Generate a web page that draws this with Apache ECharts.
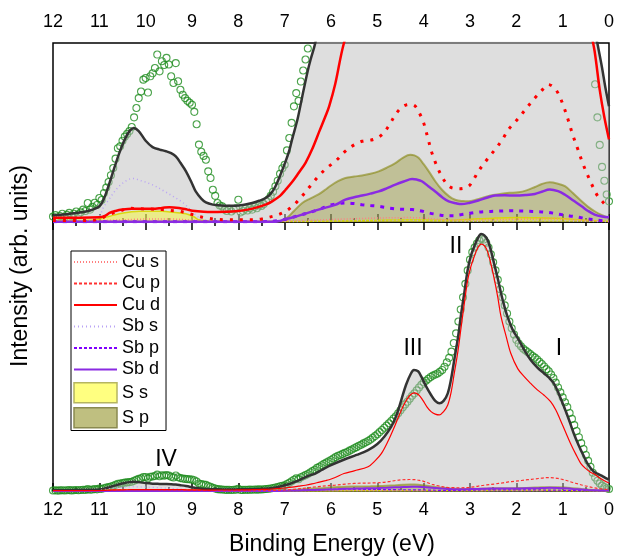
<!DOCTYPE html>
<html><head><meta charset="utf-8">
<script src="https://cdn.jsdelivr.net/npm/echarts@6/dist/echarts.min.js"></script>
<style>html,body{margin:0;padding:0;background:#fff}#c{width:617px;height:556px}</style>
</head><body><div id="c"></div>
<script>
// ---------------- DATA (arbitrary units: bottom panel full scale = 100) ----------------
const xTickLabels = [12,11,10,9,8,7,6,5,4,3,2,1,0];
const peakLabels = ['I','II','III','IV'];
const legendNames = ['Cu s','Cu p','Cu d','Sb s','Sb p','Sb d','S s','S p'];

// experimental points, binding energy from 12.00 down to 0.00 every 0.05 eV
const expStart = 12.0, expStep = 0.05;
const expVals = [
 0.20,0.25,0.15,0.22,0.30,0.18,0.26,0.33,0.22,0.30,
 0.38,0.28,0.35,0.45,0.40,0.69,0.45,0.55,0.70,0.62,
 0.87,0.80,1.05,1.25,1.45,1.70,1.96,2.30,2.68,2.75,
 2.95,3.10,3.20,3.30,3.45,3.80,4.14,4.50,4.74,5.17,
 5.23,4.70,5.29,5.40,5.59,6.08,5.47,5.84,5.70,5.96,
 5.72,5.29,5.05,5.77,5.11,4.80,4.62,4.50,4.40,4.33,
 4.26,4.00,3.55,2.81,2.55,2.40,2.26,1.84,1.60,1.17,
 0.95,0.69,0.60,0.57,0.45,0.40,0.48,0.38,0.45,0.50,
 0.81,0.35,0.40,0.48,0.42,0.50,0.45,0.55,0.50,0.60,
 0.58,0.65,0.75,0.82,0.95,1.10,1.30,1.50,1.75,1.95,
 2.08,2.60,3.05,3.60,4.20,4.68,4.40,5.10,5.50,5.90,
 6.30,6.90,7.40,7.90,8.60,9.00,9.60,10.1,10.6,11.0,
 11.5,12.1,12.6,13.1,13.4,13.8,14.2,14.5,15.0,15.4,
 15.9,16.3,16.8,17.2,17.7,18.1,18.6,19.1,19.8,20.4,
 21.1,21.9,22.7,23.5,24.3,25.2,26.0,26.9,27.8,28.9,
 30.0,31.1,32.2,33.2,34.3,35.4,36.3,37.4,38.5,39.5,
 40.4,41.0,41.7,42.4,42.9,43.3,43.7,44.3,45.0,46.2,
 47.8,49.5,51.8,55.0,58.6,63.0,67.5,72.0,77.0,82.0,
 86.0,88.8,90.5,92.0,93.2,93.8,93.5,92.3,90.5,88.0,
 85.0,82.0,78.5,75.0,72.0,69.0,66.0,63.0,60.5,58.2,
 56.2,54.8,53.8,52.9,52.2,51.6,50.9,50.2,49.6,48.9,
 48.0,47.2,46.3,45.3,44.5,43.3,42.0,40.3,38.5,36.7,
 34.8,33.0,31.2,29.0,26.8,24.5,22.3,20.0,17.8,15.6,
 13.4,11.2,9.0,6.8,5.0,3.8,2.8,2.0,1.5,1.0,
 0.75
];

const total = [[12,0.24],[11.5,0.33],[11.2,0.42],[11.0,0.57],[10.9,0.85],[10.78,1.42],[10.67,2.0],[10.57,2.5],[10.45,3.0],[10.35,3.3],[10.26,3.41],[10.15,3.3],[10.0,2.95],[9.85,2.72],[9.7,2.63],[9.56,2.57],[9.45,2.5],[9.35,2.38],[9.25,2.15],[9.13,1.84],[9.0,1.4],[8.92,1.11],[8.8,0.85],[8.7,0.71],[8.55,0.63],[8.42,0.61],[8.25,0.59],[8.06,0.59],[7.9,0.62],[7.7,0.69],[7.55,0.77],[7.41,0.87],[7.3,1.03],[7.2,1.29],[7.1,1.68],[6.98,2.2],[6.9,2.6],[6.84,3.0],[6.72,3.75],[6.62,4.56],[6.5,5.5],[6.44,5.9],[6.34,6.5],[6.2,7.8],[6.0,9.6],[5.7,11.8],[5.45,13.4],[5.2,15.2],[5.0,17.5],[4.85,20.2],[4.7,23.9],[4.58,28.5],[4.48,34.0],[4.38,39.5],[4.28,43.5],[4.21,45.0],[4.12,44.5],[4.05,42.5],[3.95,39.0],[3.84,35.7],[3.75,33.5],[3.66,32.6],[3.57,33.5],[3.48,36.3],[3.41,41.5],[3.34,48.7],[3.26,57],[3.19,66],[3.12,74],[3.05,82.2],[2.98,87.5],[2.91,90.8],[2.83,94],[2.76,95.5],[2.69,95],[2.62,93.3],[2.55,89.5],[2.48,84.6],[2.40,79],[2.33,73.5],[2.26,68.8],[2.19,64.8],[2.08,60],[1.97,56.8],[1.83,52.5],[1.69,48.7],[1.55,46],[1.40,43.7],[1.30,42.2],[1.19,40.0],[1.08,36.0],[0.97,31.3],[0.86,26.3],[0.76,21.4],[0.65,16.8],[0.54,12.8],[0.45,9.8],[0.33,7.2],[0.24,6.4],[0.15,5.6],[0.08,4.9],[0,4.2]];

const cuD = [[12,0.15],[11.0,0.17],[10.88,0.22],[10.78,0.33],[10.65,0.40],[10.5,0.45],[10.3,0.48],[10.14,0.48],[9.85,0.48],[9.65,0.51],[9.49,0.54],[9.28,0.51],[9.1,0.45],[8.99,0.41],[8.75,0.37],[8.56,0.36],[8.3,0.37],[8.06,0.39],[7.8,0.45],[7.56,0.55],[7.4,0.64],[7.27,0.75],[7.1,0.95],[6.98,1.17],[6.84,1.45],[6.7,1.78],[6.55,2.15],[6.41,2.63],[6.25,3.3],[6.12,3.84],[6.04,4.2],[5.91,5.0],[5.72,6.5],[5.5,7.5],[5.2,9.0],[5.05,11.2],[4.91,14.0],[4.77,18.5],[4.63,23.9],[4.52,28.5],[4.41,32.6],[4.30,35.5],[4.20,36.5],[4.11,35.8],[4.02,33.8],[3.93,31.3],[3.84,29.5],[3.75,28.6],[3.66,28.3],[3.57,29.5],[3.48,32.0],[3.41,36.5],[3.34,43.7],[3.26,52],[3.19,61.1],[3.12,70],[3.05,78.4],[2.98,83.5],[2.91,87.1],[2.83,90.5],[2.76,91.8],[2.69,91.2],[2.62,89],[2.55,84.5],[2.48,79.1],[2.40,72],[2.33,64.8],[2.22,57.5],[2.12,51.2],[1.97,45.5],[1.83,42.5],[1.69,40],[1.54,37.5],[1.40,35.6],[1.26,33.2],[1.15,30.2],[1.05,26.4],[0.94,22],[0.83,17.7],[0.72,13.8],[0.61,10.3],[0.5,8.3],[0.4,7.0],[0.31,6.2],[0.2,4.8],[0.1,3.8],[0,3.0]];

const cuP = [[12,0.05],[11.2,0.06],[11.0,0.1],[10.9,0.18],[10.75,0.3],[10.57,0.39],[10.45,0.46],[10.35,0.5],[10.14,0.48],[9.9,0.47],[9.63,0.45],[9.45,0.42],[9.28,0.39],[9.1,0.32],[8.99,0.27],[8.85,0.2],[8.7,0.15],[8.5,0.1],[8.27,0.08],[7.9,0.08],[7.7,0.08],[7.5,0.11],[7.34,0.17],[7.15,0.26],[6.98,0.39],[6.8,0.62],[6.62,0.95],[6.45,1.3],[6.27,1.66],[6.1,1.95],[5.91,2.2],[5.69,2.57],[5.5,2.8],[5.33,2.93],[5.08,3.0],[4.9,3.17],[4.75,3.5],[4.61,3.9],[4.48,4.15],[4.36,4.26],[4.27,4.27],[4.18,4.2],[4.09,3.95],[4.0,3.6],[3.91,3.05],[3.82,2.5],[3.72,2.05],[3.61,1.66],[3.5,1.38],[3.39,1.24],[3.21,1.21],[3.03,1.3],[2.92,1.55],[2.82,1.84],[2.64,2.25],[2.46,2.63],[2.3,3.0],[2.17,3.36],[2.03,3.62],[1.89,3.9],[1.75,4.2],[1.6,4.5],[1.45,4.78],[1.31,4.99],[1.2,4.9],[1.1,4.68],[0.99,4.25],[0.88,3.7],[0.78,3.15],[0.67,2.63],[0.56,2.1],[0.45,1.66],[0.34,1.25],[0.24,0.93],[0.12,0.7],[0,0.5]];

const cuS = [[12,0.03],[10.8,0.06],[10.2,0.1],[9.5,0.11],[8.8,0.05],[7.5,0.03],[6.5,0.06],[5.5,0.12],[4.3,0.16],[3.3,0.07],[2.0,0.1],[1.2,0.12],[0.5,0.05],[0,0.02]];

const sbS = [[12,0.02],[11.2,0.05],[11.0,0.2],[10.92,0.5],[10.8,0.8],[10.6,1.25],[10.4,1.52],[10.28,1.58],[10.1,1.5],[9.85,1.35],[9.6,1.12],[9.4,0.92],[9.17,0.67],[9.0,0.38],[8.8,0.12],[8.5,0.03],[7.0,0.02],[5.5,0.05],[4.3,0.06],[3.0,0.03],[1.5,0.05],[0,0.01]];

const sbP = [[12,0.01],[7.6,0.01],[7.34,0.02],[7.1,0.06],[6.98,0.1],[6.7,0.23],[6.5,0.33],[6.27,0.45],[6.04,0.6],[5.85,0.67],[5.69,0.69],[5.5,0.67],[5.33,0.63],[5.15,0.6],[4.97,0.57],[4.8,0.52],[4.61,0.48],[4.43,0.46],[4.25,0.45],[4.05,0.4],[3.89,0.33],[3.7,0.27],[3.53,0.23],[3.35,0.23],[3.18,0.27],[3.0,0.32],[2.82,0.36],[2.64,0.38],[2.46,0.39],[2.28,0.4],[2.1,0.41],[1.92,0.4],[1.74,0.39],[1.56,0.38],[1.38,0.36],[1.2,0.32],[1.03,0.27],[0.85,0.22],[0.67,0.18],[0.5,0.12],[0.31,0.08],[0.15,0.05],[0,0.03]];

const sbD = [[12,0.01],[7.3,0.01],[7.1,0.04],[6.98,0.1],[6.8,0.18],[6.62,0.27],[6.45,0.36],[6.27,0.45],[6.1,0.53],[5.91,0.62],[5.69,0.81],[5.5,0.9],[5.33,0.96],[5.15,1.03],[4.97,1.11],[4.8,1.22],[4.61,1.36],[4.43,1.47],[4.25,1.56],[4.15,1.54],[4.04,1.48],[3.9,1.3],[3.75,1.11],[3.6,0.9],[3.46,0.75],[3.3,0.68],[3.18,0.65],[3.0,0.7],[2.82,0.78],[2.64,0.88],[2.46,0.96],[2.25,0.97],[2.03,0.96],[1.8,0.98],[1.6,1.02],[1.45,1.1],[1.28,1.18],[1.1,1.12],[0.95,0.99],[0.77,0.78],[0.59,0.57],[0.45,0.4],[0.31,0.27],[0.15,0.2],[0,0.17]];

const sS = [[12,0.05],[11.2,0.06],[11.0,0.12],[10.8,0.2],[10.57,0.3],[10.3,0.37],[10.14,0.39],[9.85,0.39],[9.63,0.39],[9.4,0.35],[9.13,0.3],[8.95,0.18],[8.85,0.08],[8.6,0.04],[8.3,0.02],[7.0,0.02],[6.0,0.04],[5.0,0.06],[4.3,0.08],[3.5,0.06],[3.0,0.1],[2.5,0.14],[2.0,0.16],[1.5,0.15],[1.0,0.13],[0.5,0.06],[0,0.02]];

const sP = [[12,0.01],[7.3,0.01],[7.2,0.02],[7.05,0.05],[6.95,0.15],[6.8,0.4],[6.62,0.69],[6.45,0.85],[6.27,1.0],[6.1,1.2],[6.04,1.28],[5.85,1.48],[5.69,1.6],[5.5,1.65],[5.33,1.69],[5.15,1.75],[4.97,1.84],[4.8,1.97],[4.61,2.14],[4.45,2.33],[4.29,2.44],[4.2,2.42],[4.11,2.33],[4.0,2.1],[3.89,1.84],[3.75,1.48],[3.61,1.18],[3.45,0.93],[3.32,0.81],[3.15,0.76],[3.03,0.75],[2.85,0.82],[2.67,0.91],[2.5,0.98],[2.32,1.03],[2.15,1.06],[1.96,1.08],[1.78,1.15],[1.6,1.27],[1.45,1.38],[1.28,1.44],[1.12,1.4],[0.95,1.3],[0.78,1.05],[0.59,0.75],[0.45,0.55],[0.31,0.39],[0.15,0.25],[0,0.15]];

// ---------------- CHART ----------------
const expData = expVals.map((v, i) => [+(expStart - i * expStep).toFixed(2), v]);
const FONT = '"Liberation Sans", Arial, sans-serif';
const chart = echarts.init(document.getElementById('c'), null, {renderer: 'canvas'});

function xAx(gi, pos, showLabel, margin) {
  return {
    type: 'value', gridIndex: gi, position: pos, min: 0, max: 12, interval: 1, inverse: true,
    axisLine: {show: false},
    axisTick: {show: true, inside: true, length: 8, lineStyle: {color: '#000', width: 1.5}},
    minorTick: {show: true, splitNumber: 2, length: 4, lineStyle: {color: '#000', width: 1.5}},
    splitLine: {show: false}, minorSplitLine: {show: false},
    axisLabel: {show: showLabel, fontSize: 18, color: '#000', fontFamily: FONT, margin: margin,
      showMinLabel: true, showMaxLabel: true,
      formatter: v => String(xTickLabels[xTickLabels.indexOf(v)] ?? v)}
  };
}
function yAx(gi, max) {
  return {type: 'value', gridIndex: gi, min: 0, max: max, show: false,
    axisLine: {show: false}, axisTick: {show: false}, axisLabel: {show: false}, splitLine: {show: false}};
}

function panelSeries(gi) {
  const top = gi === 0;
  const xi = top ? 0 : 2, yi = gi;
  const base = {type: 'line', xAxisIndex: xi, yAxisIndex: yi, showSymbol: false, symbol: 'none',
    clip: true, silent: true, animation: false, smooth: 0.35};
  const L = (name, data, color, width, type, z, extra) => Object.assign({}, base, {
    name, data, z, itemStyle: {color}, lineStyle: {color, width, type}}, extra || {});
  return [
    {type: 'scatter', name: 'exp', xAxisIndex: xi, yAxisIndex: yi, data: expData, clip: true,
      symbol: 'circle', symbolSize: 7, z: 1, silent: true, animation: false,
      itemStyle: {color: 'rgba(0,0,0,0)', borderColor: '#1e8c1e', borderWidth: 1.1}},
    L('total', total, '#333', 2.5, 'solid', 2, {areaStyle: {color: 'rgba(188,188,188,0.7)', origin: 'start'}}),
    L('S p', sP, 'rgba(128,128,0,0.55)', 2, 'solid', 3, {itemStyle: {color: '#bfbf80'},
      areaStyle: {color: 'rgba(128,128,0,0.45)', origin: 'start'}}),
    L('S s', sS, 'rgba(215,215,0,0.9)', 1.5, 'solid', 3, {itemStyle: {color: '#ffff80'},
      areaStyle: {color: 'rgba(255,255,0,0.55)', origin: 'start'}}),
    L('Cu s', cuS, '#ff8080', top ? 1.5 : 1, [1, 2], 4),
    L('Sb s', sbS, '#b9a3f5', top ? 1.5 : 1.2, [1, 3], 4),
    L('Sb p', sbP, '#8000ff', top ? 3 : 1.2, top ? [4, 6] : [3, 2], 4),
    L('Sb d', sbD, '#8a2be2', top ? 2.5 : 2, 'solid', 4),
    L('Cu p', cuP, top ? '#ff0000' : '#ff3030', top ? 3 : 1.2, top ? [3, 7] : [3, 2], 4),
    L('Cu d', cuD, '#ff0000', top ? 2.5 : 1.2, 'solid', 4),
  ];
}

const legendData = legendNames.map(n => {
  if (n === 'S s') return {name: n, icon: 'rect', itemStyle: {color: '#ffff80', borderColor: '#b5b560', borderWidth: 1.5}};
  if (n === 'S p') return {name: n, icon: 'rect', itemStyle: {color: '#bfbf80', borderColor: '#8a8a50', borderWidth: 1.5}};
  return {name: n, itemStyle: {opacity: 0, color: 'rgba(0,0,0,0)', borderWidth: 0}};
});

const option = {
  backgroundColor: '#fff',
  animation: false,
  grid: [
    {left: 53, top: 43, width: 558, height: 179, show: true, borderColor: '#000', borderWidth: 1.5, backgroundColor: 'transparent'},
    {left: 53, top: 222, width: 558, height: 269, show: true, borderColor: '#000', borderWidth: 1.5, backgroundColor: 'transparent'}
  ],
  xAxis: [xAx(0, 'top', true, 12), xAx(0, 'bottom', false, 8), xAx(1, 'bottom', true, 10), xAx(1, 'top', false, 8)],
  yAxis: [yAx(0, 6.5), yAx(1, 100)],
  legend: {
    show: true, orient: 'vertical', left: 71, top: 251, data: legendData,
    itemWidth: 43, itemHeight: 20, itemGap: 3.5, itemTextGap: 5,
    padding: [2, 6, 2, 2], borderColor: '#000', borderWidth: 1, backgroundColor: '#fff',
    textStyle: {fontSize: 18, color: '#000', fontFamily: FONT}, selectedMode: false
  },
  series: panelSeries(1).concat(panelSeries(0)),
  graphic: [
    {type: 'text', x: 332, y: 545, style: {text: 'Binding Energy (eV)', font: '23px ' + FONT, fill: '#000', align: 'center', verticalAlign: 'middle'}},
    {type: 'text', x: 21, y: 266, rotation: Math.PI / 2, style: {text: 'Intensity (arb. units)', font: '23px ' + FONT, fill: '#000', align: 'center', verticalAlign: 'middle'}},
    {type: 'text', x: 559, y: 349, style: {text: peakLabels[0], font: '23px ' + FONT, fill: '#000', align: 'center', verticalAlign: 'middle'}},
    {type: 'text', x: 456, y: 247, style: {text: peakLabels[1], font: '23px ' + FONT, fill: '#000', align: 'center', verticalAlign: 'middle'}},
    {type: 'text', x: 413, y: 349, style: {text: peakLabels[2], font: '23px ' + FONT, fill: '#000', align: 'center', verticalAlign: 'middle'}},
    {type: 'text', x: 166, y: 460, style: {text: peakLabels[3], font: '23px ' + FONT, fill: '#000', align: 'center', verticalAlign: 'middle'}}
  ]
};
chart.setOption(option);
</script>
</body></html>
